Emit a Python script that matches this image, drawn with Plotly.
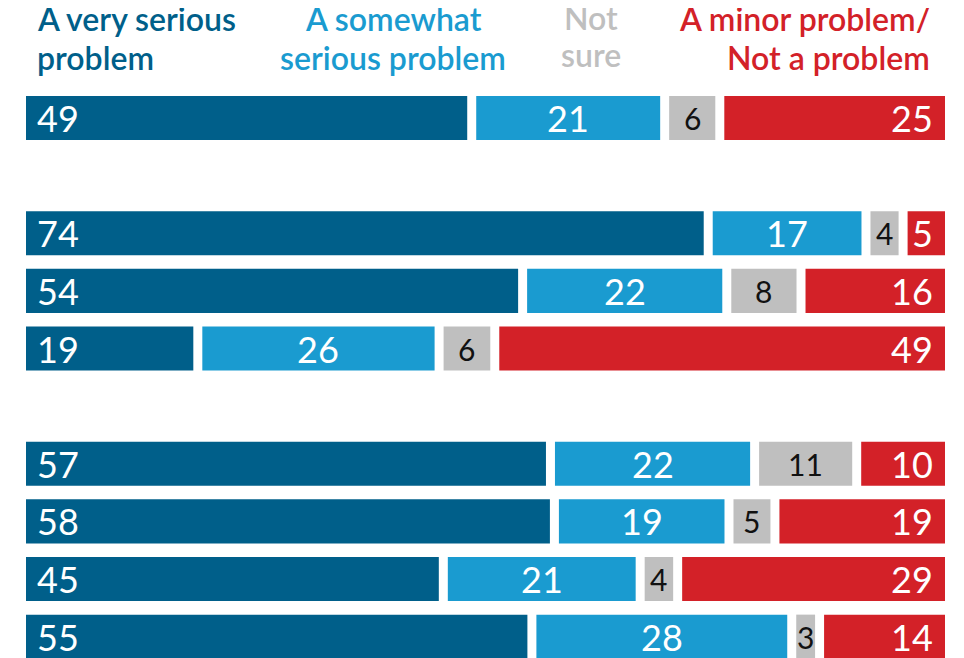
import plotly.graph_objects as go

# ---- data ----
rows = ["Row 1", "Row 2", "Row 3", "Row 4", "Row 5", "Row 6", "Row 7", "Row 8"]
category_order = ["Row 1", " ", "Row 2", "Row 3", "Row 4", "  ", "Row 5", "Row 6", "Row 7", "Row 8"]
series_names = ["A very serious problem", "A somewhat serious problem", "Not sure",
                "A minor problem/ Not a problem"]
very_serious = [49, 74, 54, 19, 57, 58, 45, 55]
somewhat_serious = [21, 17, 22, 26, 22, 19, 21, 28]
not_sure = [6, 4, 8, 6, 11, 5, 4, 3]
minor_not = [25, 5, 16, 49, 10, 19, 29, 14]
header_lines = [["A very serious", "problem"], ["A somewhat", "serious problem"],
                ["Not", "sure"], ["A minor problem/", "Not a problem"]]

# ---- style ----
colors = ["#005f8a", "#1a9bd0", "#bfbfbf", "#d32128"]
text_colors = ["white", "white", "#111111", "white"]
text_sizes = [36, 36, 30, 36]
FONT = "Lato, 'Open Sans', sans-serif"
OFF = 8  # page offset of the figure inside the browser window
W, H = 964, 658
ML, MR, MT, MB = 26 - OFF, 18, 60 - OFF, 0
plot_w = W - ML - MR
plot_h = H - MT - MB
gap = 9 * 100 / plot_w  # 9px white separator in data units

series = [very_serious, somewhat_serious, not_sure, minor_not]

fig = go.Figure()
annotations = []
bases = [[0] * len(rows) for _ in series]
widths = [[0] * len(rows) for _ in series]
for r in range(len(rows)):
    total = sum(s[r] for s in series)
    cum = 0.0
    for k, s in enumerate(series):
        w = s[r] / total * 100
        bases[k][r] = cum
        widths[k][r] = w - gap
        cum += w

for k, s in enumerate(series):
    fig.add_trace(go.Bar(
        y=rows, x=widths[k], base=bases[k], orientation="h",
        name=series_names[k], marker=dict(color=colors[k], line=dict(width=0)),
        width=0.765, showlegend=False, hoverinfo="skip",
    ))
    for r in range(len(rows)):
        b, w = bases[k][r], widths[k][r]
        if k == 0:
            ax, anchor, shift = b, "left", 9
        elif k == 3:
            ax, anchor, shift = b + w, "right", -10
        else:
            ax, anchor, shift = b + w / 2, "center", 0
        annotations.append(dict(
            x=ax, y=rows[r], xref="x", yref="y", text=str(s[r]), showarrow=False,
            xanchor=anchor, yanchor="middle", xshift=shift, yshift=0,
            font=dict(family=FONT, size=text_sizes[k], color=text_colors[k]),
        ))

# headers (page pixels -> paper coords)
def px_x(p):
    return (p - OFF - ML) / plot_w

def px_y(p):
    return (H - MB - (p - OFF)) / plot_h

HFS = 32
header_pos = [(35, "left"), (393, "center"), (591, "center"), (932, "right")]
header_base = [(33, 71.5), (33, 71.5), (31.5, 68.5), (33, 72)]
for k, (hx, anc) in enumerate(header_pos):
    for li, line in enumerate(header_lines[k]):
        m = header_base[k][li] - 0.45 * HFS
        annotations.append(dict(
            x=px_x(hx), y=px_y(m), xref="paper", yref="paper",
            text=line, showarrow=False, xanchor=anc, yanchor="middle",
            font=dict(family=FONT, size=HFS, color=colors[k], weight=600),
        ))

fig.update_layout(
    width=W, height=H, margin=dict(l=ML, r=MR, t=MT, b=MB, pad=0),
    paper_bgcolor="white", plot_bgcolor="white", barmode="overlay",
    xaxis=dict(range=[0, 100], visible=False, fixedrange=True),
    yaxis=dict(type="category", categoryorder="array", categoryarray=category_order,
               range=[9.509, -1.007], visible=False, fixedrange=True),
    annotations=annotations,
)
fig.write_html("out.html")
